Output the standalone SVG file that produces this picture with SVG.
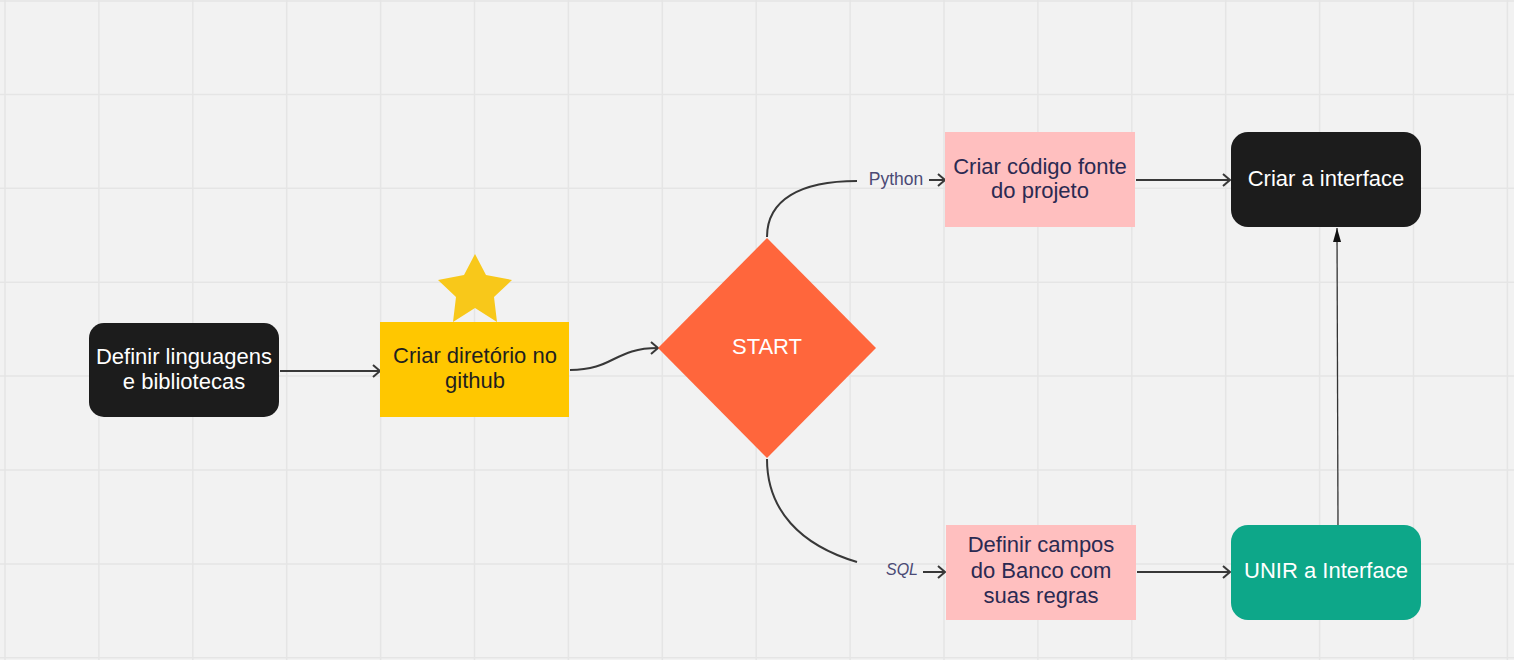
<svg xmlns="http://www.w3.org/2000/svg" width="1514" height="660" viewBox="0 0 1514 660">
<style>
.grid line{stroke:#e5e5e5;stroke-width:1.5}
.lbl{font-family:"Liberation Sans",Arial,sans-serif;font-size:22px;text-anchor:middle}
.w{fill:#ffffff}
.d{fill:#1f1f1f}
.n{fill:#2b2a52}
.edge{fill:none;stroke:#383838;stroke-width:2}
.thin{fill:none;stroke:#333333;stroke-width:1.3}
.elbl{font-family:"Liberation Sans",Arial,sans-serif;font-size:16px;fill:#4b4a75;text-anchor:middle}
</style>
<defs>
<marker id="open" markerUnits="userSpaceOnUse" markerWidth="12" markerHeight="14" refX="10" refY="7" orient="auto">
<path d="M3,1 L10,7 L3,13" fill="none" stroke="#383838" stroke-width="2"/>
</marker>
<marker id="solid" markerUnits="userSpaceOnUse" markerWidth="14" markerHeight="8" refX="14" refY="4" orient="auto">
<path d="M0,0 L14,4 L0,8 Z" fill="#111111"/>
</marker>
</defs>
<rect x="0" y="0" width="1514" height="660" fill="#f2f2f2"/>
<g class="grid">
<line x1="5" y1="0" x2="5" y2="660"/><line x1="98.9" y1="0" x2="98.9" y2="660"/><line x1="192.8" y1="0" x2="192.8" y2="660"/><line x1="286.7" y1="0" x2="286.7" y2="660"/><line x1="380.6" y1="0" x2="380.6" y2="660"/><line x1="474.5" y1="0" x2="474.5" y2="660"/><line x1="568.4" y1="0" x2="568.4" y2="660"/><line x1="662.3" y1="0" x2="662.3" y2="660"/><line x1="756.2" y1="0" x2="756.2" y2="660"/><line x1="850.1" y1="0" x2="850.1" y2="660"/><line x1="944" y1="0" x2="944" y2="660"/><line x1="1037.9" y1="0" x2="1037.9" y2="660"/><line x1="1131.8" y1="0" x2="1131.8" y2="660"/><line x1="1225.7" y1="0" x2="1225.7" y2="660"/><line x1="1319.6" y1="0" x2="1319.6" y2="660"/><line x1="1413.5" y1="0" x2="1413.5" y2="660"/><line x1="1507.4" y1="0" x2="1507.4" y2="660"/>
<line x1="0" y1="1" x2="1514" y2="1"/><line x1="0" y1="94.4" x2="1514" y2="94.4"/><line x1="0" y1="188.3" x2="1514" y2="188.3"/><line x1="0" y1="282.2" x2="1514" y2="282.2"/><line x1="0" y1="376.1" x2="1514" y2="376.1"/><line x1="0" y1="470" x2="1514" y2="470"/><line x1="0" y1="563.9" x2="1514" y2="563.9"/><line x1="0" y1="657.8" x2="1514" y2="657.8"/>
</g>
<g id="connectors">
<path class="edge" d="M280,371 L380,371" marker-end="url(#open)"/>
<path class="edge" d="M570,370 C614,370 614,348 658,348" marker-end="url(#open)"/>
<path class="edge" d="M767,237 C767,200 800,181 857,181"/>
<path class="edge" d="M929,180 L945,180" marker-end="url(#open)"/>
<text class="elbl" x="896" y="185" style="font-size:17.5px">Python</text>
<path class="edge" d="M767,459 C767,510 800,545 857,562"/>
<path class="edge" d="M923,572 L945,572" marker-end="url(#open)"/>
<text class="elbl" x="902" y="575" font-style="italic">SQL</text>
<path class="edge" d="M1136,180 L1230,180" marker-end="url(#open)"/>
<path class="edge" d="M1137,572 L1230,572" marker-end="url(#open)"/>
<path class="thin" d="M1338,525 L1337,228" marker-end="url(#solid)"/>
</g>
<g id="node-definir-linguagens">
<rect x="89" y="323" width="190" height="94" rx="15" fill="#1c1c1c"/>
<text class="lbl w" x="184" y="364">Definir linguagens</text>
<text class="lbl w" x="184" y="389">e bibliotecas</text>
</g>
<g id="node-criar-diretorio">
<rect x="380" y="322" width="189" height="95" fill="#ffc700"/>
<text class="lbl d" x="475" y="363">Criar diretório no</text>
<text class="lbl d" x="475" y="388">github</text>
</g>
<g id="star">
<polygon points="475,254 486,275 512,280 494,297 497,322 475,308 453,322 456,297 438,280 464,275" fill="#f8c81a"/>
</g>
<g id="node-start">
<polygon points="767,238 876,348 767,458 658,348" fill="#ff663c"/>
<text class="lbl w" x="767" y="354">START</text>
</g>
<g id="node-criar-codigo">
<rect x="945" y="132" width="190" height="95" fill="#ffbfbf"/>
<text class="lbl n" x="1040" y="174">Criar código fonte</text>
<text class="lbl n" x="1040" y="198">do projeto</text>
</g>
<g id="node-definir-campos">
<rect x="946" y="525" width="190" height="95" fill="#ffbfbf"/>
<text class="lbl n" x="1041" y="552">Definir campos</text>
<text class="lbl n" x="1041" y="578">do Banco com</text>
<text class="lbl n" x="1041" y="603">suas regras</text>
</g>
<g id="node-criar-interface">
<rect x="1231" y="132" width="190" height="95" rx="17" fill="#1c1c1c"/>
<text class="lbl w" x="1326" y="186">Criar a interface</text>
</g>
<g id="node-unir-interface">
<rect x="1231" y="525" width="190" height="95" rx="17" fill="#0da789"/>
<text class="lbl w" x="1326" y="578">UNIR a Interface</text>
</g>
</svg>
